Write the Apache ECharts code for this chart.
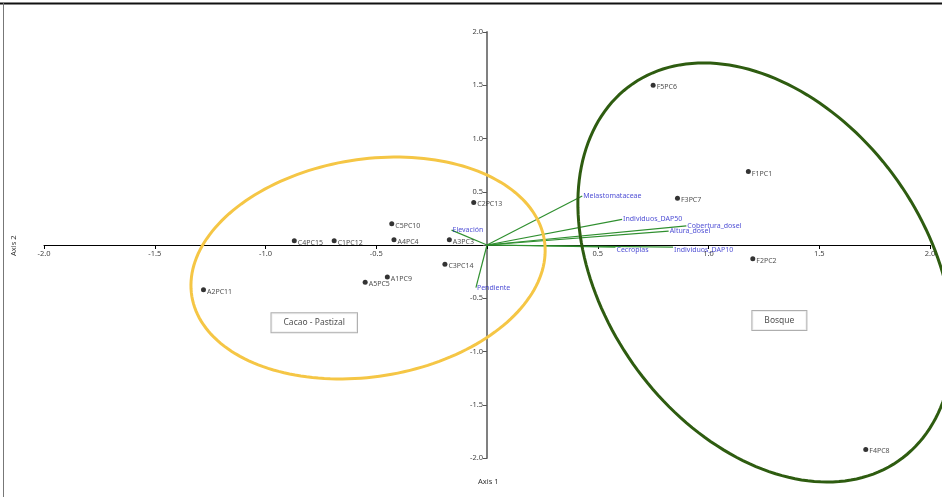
<!DOCTYPE html>
<html>
<head>
<meta charset="utf-8">
<script src="https://cdn.jsdelivr.net/npm/echarts@6/dist/echarts.min.js"></script>
<style>
  html, body { margin: 0; padding: 0; background: #fff; }
  #chart { width: 942px; height: 497px; }
</style>
</head>
<body>
<div id="chart"></div>
<script>
// Sample scores on the first two ordination axes
const siteNames = ['F5PC6', 'F1PC1', 'F3PC7', 'F2PC2', 'F4PC8',
  'C2PC13', 'C5PC10', 'C4PC15', 'C1PC12', 'A4PC4', 'A3PC3',
  'C3PC14', 'A1PC9', 'A5PC5', 'A2PC11'];
const siteAxis1 = [0.75, 1.18, 0.86, 1.20, 1.71,
  -0.06, -0.43, -0.87, -0.69, -0.42, -0.17,
  -0.19, -0.45, -0.55, -1.28];
const siteAxis2 = [1.50, 0.69, 0.44, -0.13, -1.92,
  0.40, 0.20, 0.04, 0.04, 0.05, 0.05,
  -0.18, -0.30, -0.35, -0.42];

// Environmental variable vectors (biplot arrows from the origin)
const varNames = ['Melastomataceae', 'Individuos_DAP50', 'Cobertura_dosel',
  'Altura_dosel', 'Cecropias', 'Individuos_DAP10', 'Elevación', 'Pendiente'];
const varAxis1 = [0.43, 0.61, 0.90, 0.82, 0.58, 0.84, -0.16, -0.05];
const varAxis2 = [0.46, 0.24, 0.18, 0.13, -0.02, -0.02, 0.14, -0.40];

// Group ellipses: centre, semi-axes (axis units) and rotation in degrees
const groupNames = ['Cacao - Pastizal', 'Bosque'];
const groupCentreX = [-0.537, 1.257];
const groupCentreY = [-0.216, -0.258];
const groupSemiMajor = [1.059, 1.991];
const groupSemiMinor = [0.777, 0.790];
const groupAngle = [74.8, -80.4];
// Where each group's caption box sits
const groupLabelX = [-0.78, 1.32];
const groupLabelY = [-0.73, -0.71];

const ticks = [-2, -1.5, -1, -0.5, 0, 0.5, 1, 1.5, 2];

const ellipseColors = ['#F5C645', '#2E5C10'];
const FONT = 'Noto Sans';

// plot box
const GRID = { left: 44, right: 12, top: 32, bottom: 39 };
const W = 942, H = 497;
const plotW = W - GRID.left - GRID.right;
const plotH = H - GRID.top - GRID.bottom;
const xMin = ticks[0], xMax = ticks[ticks.length - 1];
// shift each axis from the grid edge to the other axis' zero
const xAxisShift = -plotH * (0 - xMin) / (xMax - xMin);
const yAxisShift = -plotW * (0 - xMin) / (xMax - xMin);

const chart = echarts.init(document.getElementById('chart'));

const tickFmt = v => (Math.abs(v) < 1e-9 ? '' : v.toFixed(1));

chart.setOption({
  backgroundColor: '#ffffff',
  animation: false,
  grid: GRID,
  xAxis: {
    type: 'value', min: xMin, max: xMax, interval: 0.5,
    offset: xAxisShift,
    axisLine: { onZero: false, lineStyle: { color: '#000', width: 1 } },
    axisTick: { show: true, length: 4, lineStyle: { color: '#000' } },
    axisLabel: { formatter: tickFmt, fontFamily: FONT, fontSize: 7.5, color: '#444', margin: 5 },
    splitLine: { show: false }
  },
  yAxis: {
    type: 'value', min: xMin, max: xMax, interval: 0.5,
    offset: yAxisShift,
    axisLine: { onZero: false, lineStyle: { color: '#808080', width: 2 } },
    axisTick: { show: true, length: 4, lineStyle: { color: '#555' } },
    axisLabel: { formatter: tickFmt, fontFamily: FONT, fontSize: 7.5, color: '#444', margin: 4 },
    splitLine: { show: false }
  },
  graphic: [
    { type: 'line', shape: { x1: 0, y1: 3.5, x2: 942, y2: 3.5 }, style: { stroke: '#111', lineWidth: 2 }, z: 100 },
    { type: 'line', shape: { x1: 3.5, y1: 3, x2: 3.5, y2: 497 }, style: { stroke: '#777', lineWidth: 1 }, z: 100 },
    { type: 'text', left: 478, top: 478, style: { text: 'Axis 1', font: '7.5px "Noto Sans"', fill: '#333' } },
    { type: 'text', x: 10, y: 256, rotation: Math.PI / 2, style: { text: 'Axis 2', font: '7.5px "Noto Sans"', fill: '#333' } }
  ],
  series: [
    {
      // arrows of the environmental variables
      type: 'lines',
      coordinateSystem: 'cartesian2d',
      z: 2,
      lineStyle: { color: '#2f8f2f', width: 1.2, opacity: 1 },
      data: varNames.map((n, i) => ({ coords: [[0, 0], [varAxis1[i], varAxis2[i]]] }))
    },
    {
      type: 'scatter',
      z: 3,
      symbolSize: 0,
      // names of arrows lying on the horizontal axis are dropped just below it
      data: varNames.map((n, i) => ({
        name: n,
        value: [varAxis1[i], varAxis2[i]],
        label: Math.abs(varAxis2[i]) < 0.05 ? { offset: [0, 3] } : undefined
      })),
      label: {
        show: true, position: 'right', distance: 1,
        formatter: p => p.name,
        fontFamily: FONT, fontSize: 7, color: '#1a1ac8'
      }
    },
    {
      // group ellipses
      type: 'custom',
      z: 4,
      dimensions: ['cx', 'cy', 'a', 'b', 'ang'],
      encode: { x: 0, y: 1 },
      data: groupNames.map((n, i) => [groupCentreX[i], groupCentreY[i], groupSemiMajor[i], groupSemiMinor[i], groupAngle[i]]),
      renderItem: function (params, api) {
        const cx = api.value(0), cy = api.value(1);
        const a = api.value(2), b = api.value(3);
        const phi = api.value(4) * Math.PI / 180;
        const cp = Math.cos(phi), sp = Math.sin(phi);
        const pts = [];
        const N = 180;
        for (let k = 0; k < N; k++) {
          const t = 2 * Math.PI * k / N;
          const u = a * Math.cos(t), w = b * Math.sin(t);
          pts.push(api.coord([cx + u * cp - w * sp, cy + u * sp + w * cp]));
        }
        return {
          type: 'polygon',
          shape: { points: pts },
          style: { fill: 'none', stroke: ellipseColors[params.dataIndex], lineWidth: 3 }
        };
      }
    },
    {
      // sample points
      type: 'scatter',
      z: 5,
      symbol: 'circle',
      symbolSize: 5,
      itemStyle: { color: '#000' },
      data: siteNames.map((n, i) => ({ name: n, value: [siteAxis1[i], siteAxis2[i]] })),
      label: {
        show: true, position: 'right', distance: 1, offset: [0, 2],
        formatter: p => p.name,
        fontFamily: FONT, fontSize: 7, color: '#222'
      }
    },
    {
      // group captions
      type: 'scatter',
      z: 6,
      symbolSize: 0,
      data: groupNames.map((n, i) => ({ name: n, value: [groupLabelX[i], groupLabelY[i]] })),
      label: {
        show: true, position: 'inside',
        formatter: p => p.name,
        fontFamily: FONT, fontSize: 8.5, color: '#222',
        backgroundColor: '#fff', borderColor: '#9a9a9a', borderWidth: 1,
        padding: [5, 12, 5, 12]
      },
      labelLayout: { hideOverlap: false }
    }
  ]
});
</script>
</body>
</html>
